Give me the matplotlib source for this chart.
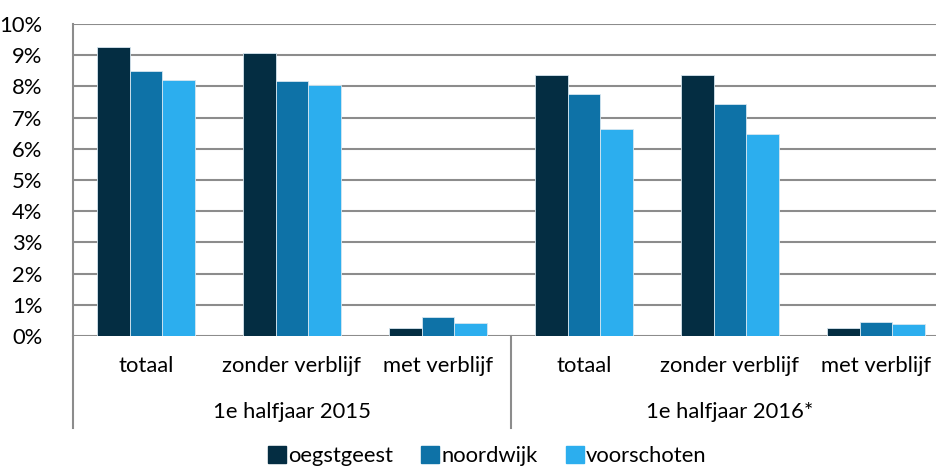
import numpy as np
import matplotlib.pyplot as plt
from matplotlib.patches import Patch

categories = ["totaal", "zonder verblijf", "met verblijf",
              "totaal", "zonder verblijf", "met verblijf"]
groups = ["1e halfjaar 2015", "1e halfjaar 2016*"]
series = ["oegstgeest", "noordwijk", "voorschoten"]
oegstgeest = [9.25, 9.06, 0.27, 8.35, 8.35, 0.27]
noordwijk = [8.48, 8.16, 0.60, 7.77, 7.45, 0.46]
voorschoten = [8.22, 8.03, 0.41, 6.62, 6.49, 0.40]
yticks = [0, 1, 2, 3, 4, 5, 6, 7, 8, 9, 10]

colors = ["#042d42", "#0e72a7", "#2caeee"]
plt.rcParams['font.family'] = ['Lato', 'DejaVu Sans']
fs = 15.8

fig = plt.figure(figsize=(9.37, 4.73), dpi=100)
ax = fig.add_axes([73/937, (473-336)/473, 876/937, 312/473])

x = np.arange(len(categories))
w = 0.225
for i, (vals, c) in enumerate(zip([oegstgeest, noordwijk, voorschoten], colors)):
    ax.bar(x + (i - 1) * w, vals, w, color=c, edgecolor="#d6e6f0", linewidth=0.6, zorder=3)

ax.set_xlim(-0.5, len(categories) - 0.5)
ax.set_ylim(0, 10)
ax.set_yticks(yticks)
ax.set_yticklabels([f"{t}%" for t in yticks], fontsize=fs)
ax.tick_params(axis='y', length=0, pad=22)
ax.tick_params(axis='x', length=0, bottom=False, labelbottom=False)
ax.grid(axis='y', color="#8c8c8c", linewidth=1.5, zorder=0)
for s in ["top", "right", "bottom"]:
    ax.spines[s].set_visible(False)
ax.spines["left"].set_color("#8c8c8c")
ax.spines["left"].set_linewidth(1.5)

trans = ax.get_xaxis_transform()
for xi, lab in zip(x, categories):
    ax.text(xi, -0.095, lab, transform=trans, ha='center', va='center', fontsize=fs)
for gi, g in enumerate(groups):
    ax.text(gi * 3 + 1, -0.245, g, transform=trans, ha='center', va='center', fontsize=fs)
for sx in [-0.5, 2.5, 5.5]:
    ax.plot([sx, sx], [0, -0.295], transform=trans, color="#8c8c8c", lw=1.5, clip_on=False)

handles = [Patch(color=c) for c in colors]
fig.legend(handles, series, loc='lower center', bbox_to_anchor=(0.52, -0.028), ncol=3,
           frameon=False, fontsize=fs, handlelength=0.8, handleheight=0.8,
           handletextpad=0.1, columnspacing=1.3)

fig.savefig("out.png", dpi=100)
